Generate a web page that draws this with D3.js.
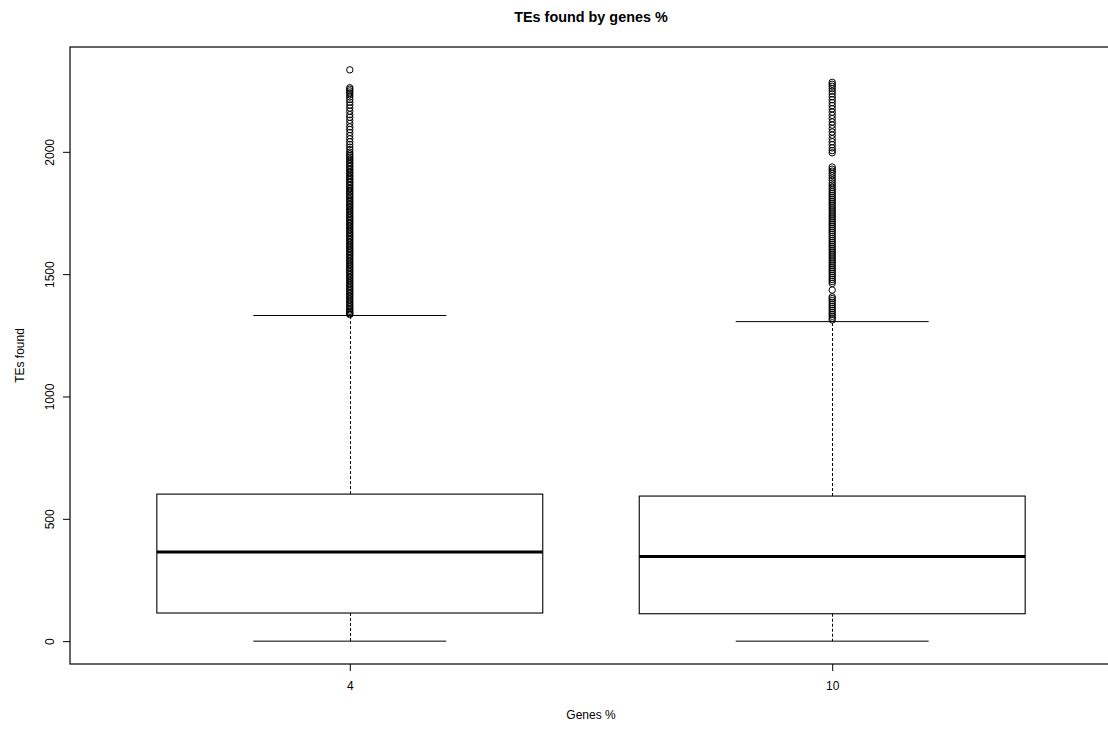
<!DOCTYPE html>
<html>
<head>
<meta charset="utf-8">
<script src="https://cdn.jsdelivr.net/npm/d3@7"></script>
<style>
  html, body { margin: 0; padding: 0; background: #fff; }
  svg { display: block; }
  text { font-family: "Liberation Sans", Arial, Helvetica, sans-serif; fill: #000; }
</style>
</head>
<body>
<svg id="chart" width="1108" height="729"></svg>
<script>
// Categories (percentage of genes) and box statistics for TEs found
const categories = ["4", "10"];
const lowerWhisker = [0, 0];
const q1 = [115, 112];
const median = [364, 346];
const q3 = [601, 593];
const upperWhisker = [1331, 1306];

// Points beyond the upper whisker
const outliers4 = [
  2335, 2262, 2256, 2249, 2241, 2233, 2224, 2214, 2203, 2191, 2179, 2166, 2152, 2141,
  2129, 2116, 2102, 2091, 2079, 2066, 2053, 2041, 2030, 2019, 2009, 1999, 1991, 1984,
  1978, 1971, 1965, 1957, 1952, 1944, 1939, 1931, 1926, 1918, 1913, 1905, 1899, 1892,
  1887, 1879, 1874, 1866, 1861, 1853, 1848, 1840, 1835, 1827, 1821, 1815, 1808, 1802,
  1796, 1789, 1783, 1776, 1770, 1763, 1757, 1750, 1744, 1737, 1731, 1724, 1718, 1711,
  1705, 1698, 1692, 1685, 1679, 1672, 1666, 1659, 1653, 1646, 1640, 1633, 1627, 1620,
  1614, 1607, 1601, 1594, 1588, 1581, 1575, 1568, 1562, 1555, 1549, 1542, 1536, 1529,
  1523, 1516, 1510, 1503, 1497, 1490, 1484, 1477, 1471, 1464, 1458, 1451, 1445, 1438,
  1432, 1425, 1419, 1412, 1406, 1399, 1393, 1386, 1380, 1373, 1367, 1360, 1354, 1348,
  1343, 1338, 1335
];
const outliers10 = [
  2284, 2276, 2268, 2258, 2248, 2237, 2225, 2213, 2201, 2189, 2176, 2162, 2149, 2136,
  2122, 2109, 2095, 2081, 2068, 2054, 2041, 2029, 2016, 2005, 1996,
  1938, 1929, 1921, 1912, 1903, 1893, 1884, 1873, 1864, 1855, 1846, 1838, 1830, 1822,
  1814, 1806, 1798, 1790, 1782, 1774, 1766, 1758, 1750, 1742, 1734, 1726, 1718, 1710,
  1702, 1694, 1686, 1678, 1670, 1662, 1654, 1646, 1638, 1630, 1622, 1614, 1606, 1598,
  1590, 1582, 1574, 1566, 1558, 1550, 1542, 1534, 1526, 1518, 1510, 1502, 1494, 1486,
  1478, 1470, 1462, 1435,
  1407, 1400, 1392, 1384, 1376, 1368, 1360, 1352, 1344, 1336, 1328, 1320, 1313
];
const outliers = [outliers4, outliers10];

const yTicks = [0, 500, 1000, 1500, 2000];

const svg = d3.select("#chart");
const plotLeft = 70, plotRight = 1112, plotTop = 47, plotBottom = 664;

// Data extents padded 4% on each side
const dataMin = d3.min(lowerWhisker);
const dataMax = d3.max(outliers.flat());
const padY = (dataMax - dataMin) * 0.04;
const y = d3.scaleLinear().domain([dataMin - padY, dataMax + padY]).range([plotBottom, plotTop]);

const xMin = 0.5, xMax = categories.length + 0.5;
const padX = (xMax - xMin) * 0.04;
const x = d3.scaleLinear().domain([xMin - padX, xMax + padX]).range([plotLeft, plotRight]);

const boxHalf = 0.4, capHalf = 0.2;

const g = svg.append("g");

categories.forEach((c, i) => {
  const pos = i + 1;
  const cx = Math.round(x(pos)) + 0.5;
  // dashed whiskers
  g.append("line")
    .attr("x1", cx).attr("x2", cx)
    .attr("y1", y(q3[i])).attr("y2", y(upperWhisker[i]))
    .attr("stroke", "#000").attr("stroke-width", 1).attr("stroke-dasharray", "3,2");
  g.append("line")
    .attr("x1", cx).attr("x2", cx)
    .attr("y1", y(q1[i])).attr("y2", y(lowerWhisker[i]))
    .attr("stroke", "#000").attr("stroke-width", 1).attr("stroke-dasharray", "3,2");
  // whisker caps
  [upperWhisker[i], lowerWhisker[i]].forEach(v => {
    g.append("line")
      .attr("x1", x(pos - capHalf)).attr("x2", x(pos + capHalf))
      .attr("y1", y(v)).attr("y2", y(v))
      .attr("stroke", "#000").attr("stroke-width", 1);
  });
  // box
  g.append("rect")
    .attr("x", x(pos - boxHalf)).attr("width", x(pos + boxHalf) - x(pos - boxHalf))
    .attr("y", y(q3[i])).attr("height", y(q1[i]) - y(q3[i]))
    .attr("fill", "#fff").attr("stroke", "#000").attr("stroke-width", 1.1);
  // median
  g.append("line")
    .attr("x1", x(pos - boxHalf)).attr("x2", x(pos + boxHalf))
    .attr("y1", y(median[i])).attr("y2", y(median[i]))
    .attr("stroke", "#000").attr("stroke-width", 3);
  // outliers
  g.selectAll(null).data(outliers[i]).enter().append("circle")
    .attr("cx", x(pos)).attr("cy", d => y(d)).attr("r", 3.2)
    .attr("fill", "none").attr("stroke", "#000").attr("stroke-width", 1);
});

// plot frame
svg.append("rect")
  .attr("x", plotLeft).attr("y", plotTop)
  .attr("width", plotRight - plotLeft).attr("height", plotBottom - plotTop)
  .attr("fill", "none").attr("stroke", "#000").attr("stroke-width", 1.2);

// y axis
const yAxis = d3.axisLeft(y).tickValues(yTicks).tickSize(7).tickFormat(d3.format("d"));
const ya = svg.append("g").attr("transform", `translate(${plotLeft},0)`).call(yAxis);
ya.select(".domain").remove();
ya.selectAll(".tick line").attr("stroke", "#000");
ya.selectAll(".tick text")
  .attr("x", 0).attr("y", 0).attr("dy", 0)
  .attr("transform", "translate(-16,0) rotate(-90)")
  .attr("text-anchor", "middle")
  .style("font-size", "12px").style("font-family", "'Liberation Sans', Arial, sans-serif");

// x axis
const xAxis = d3.axisBottom(x).tickValues(categories.map((c, i) => i + 1))
  .tickFormat((d, i) => categories[i]).tickSize(7);
const xa = svg.append("g").attr("transform", `translate(0,${plotBottom})`).call(xAxis);
xa.select(".domain").remove();
xa.selectAll(".tick line").attr("stroke", "#000");
xa.selectAll(".tick text").attr("y", 26).attr("dy", 0)
  .style("font-size", "12px").style("font-family", "'Liberation Sans', Arial, sans-serif");

// titles
svg.append("text")
  .attr("x", (plotLeft + plotRight) / 2).attr("y", 22)
  .attr("text-anchor", "middle")
  .style("font-size", "14.4px").style("font-weight", "bold")
  .text("TEs found by genes %");

svg.append("text")
  .attr("x", (plotLeft + plotRight) / 2).attr("y", 719)
  .attr("text-anchor", "middle")
  .style("font-size", "12px")
  .text("Genes %");

svg.append("text")
  .attr("transform", `translate(24,${(plotTop + plotBottom) / 2}) rotate(-90)`)
  .attr("text-anchor", "middle")
  .style("font-size", "12px")
  .text("TEs found");
</script>
</body>
</html>
